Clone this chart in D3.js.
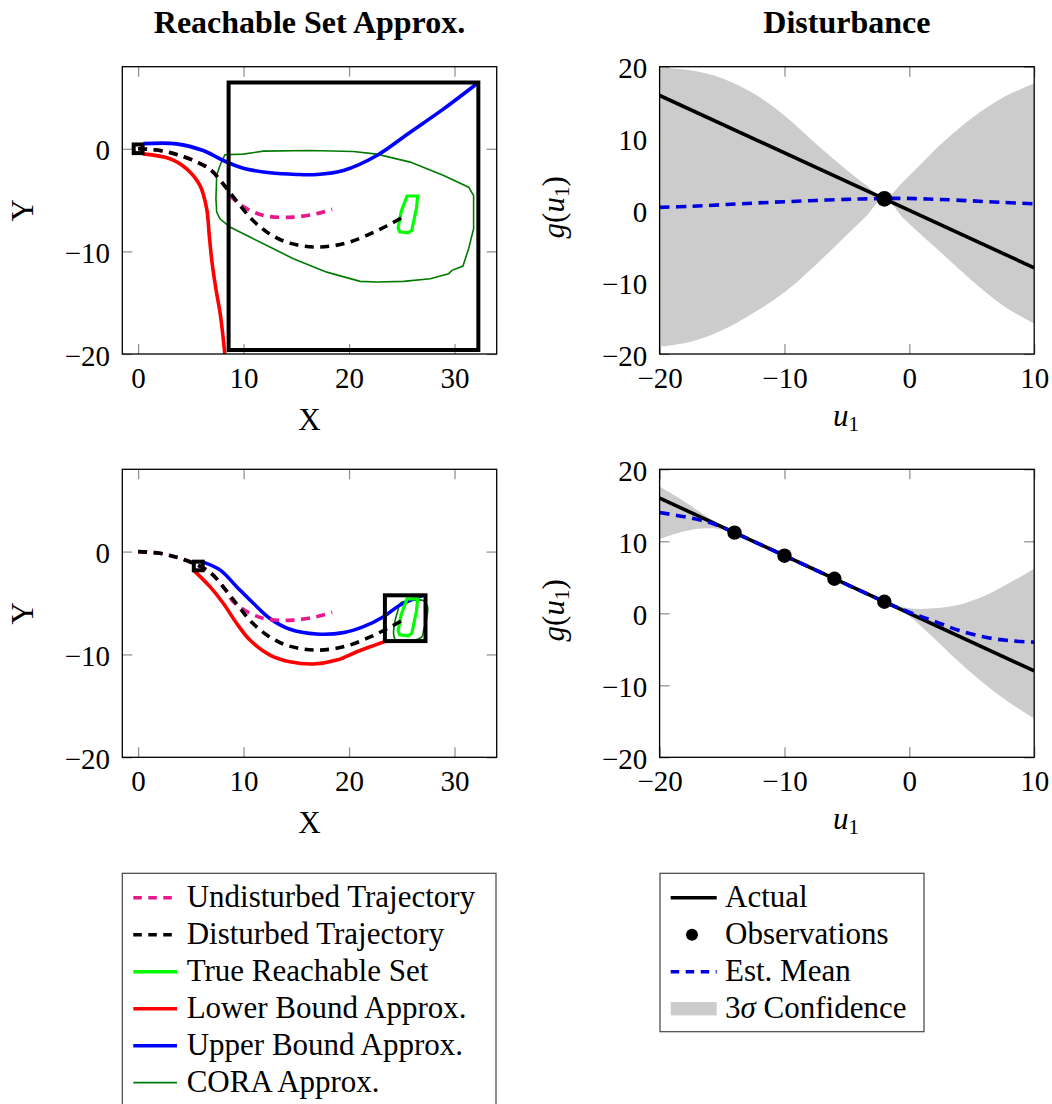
<!DOCTYPE html>
<html><head><meta charset="utf-8">
<script src="https://cdn.jsdelivr.net/npm/d3@7"></script>
<style>
body{margin:0;background:#fff}
svg{display:block}
text{font-family:"Liberation Serif","Times New Roman",serif;fill:#000}
</style>
</head><body>
<svg id="c" width="1052" height="1104"></svg>
<script>
// ---------------- DATA ----------------
const titles = ["Reachable Set Approx.", "Disturbance"];
const xTicksReach = [0, 10, 20, 30];
const yTicksReach = [-20, -10, 0];
const uTicks = [-20, -10, 0, 10];
const gTicks = [-20, -10, 0, 10, 20];

// trajectories (shared by both reachable-set panels)
const trajUndisturbed = [[0,0],[2.06,-0.17],[3.65,-0.55],[5.22,-1.13],[6.81,-2.0],[8.2,-3.6],[9.0,-4.85],[10.6,-6.0],[12.2,-6.56],[14.7,-6.66],[16.9,-6.33],[18.4,-5.9]];
const trajDisturbed = [[0,0],[2.06,-0.17],[3.65,-0.55],[5.22,-1.13],[6.81,-2.0],[8.2,-3.6],[9.5,-5.3],[10.8,-6.9],[12.2,-8.1],[13.8,-9.0],[15.5,-9.45],[17.0,-9.58],[18.5,-9.45],[20.1,-9.08],[22.0,-8.3],[23.6,-7.5],[25.3,-6.55]];
const trueReachSet = [[25.5,-4.6],[26.5,-4.6],[26.4,-5.75],[25.95,-7.95],[25.6,-8.2],[24.8,-8.1],[24.65,-7.7],[24.95,-6.1]];

// top panel (long horizon)
const upperTop = [[0.5,0.5],[3.65,0.48],[6.17,-0.17],[8.07,-1.14],[9.97,-1.89],[12.5,-2.34],[15,-2.5],[16.94,-2.5],[19.47,-2.11],[22.64,-0.65],[25.8,1.62],[28.97,3.89],[32.3,6.48]];
const lowerTop = [[0.45,-0.5],[3.01,-0.97],[4.6,-1.95],[5.86,-3.57],[6.5,-5.84],[6.75,-8.5],[7.0,-11.0],[7.35,-13.5],[7.8,-16.2],[8.2,-19.8],[8.3,-21]];
const coraTop = [[8.23,-0.58],[9.97,-0.52],[11.87,-0.23],[16.3,-0.17],[20.42,-0.26],[22.64,-0.52],[25.8,-1.3],[28.97,-2.6],[31.34,-3.74],[31.81,-4.55],[31.81,-7.79],[31.34,-9.74],[30.8,-11.43],[29.76,-11.85],[29.44,-12.17],[27.7,-12.66],[25.17,-12.92],[22.64,-12.99],[21.05,-12.92],[17.89,-12.02],[14.72,-10.71],[12.5,-9.58],[10.6,-8.6],[8.71,-7.63],[7.76,-6.82],[7.45,-6.17],[7.38,-4.87],[7.45,-2.6],[7.76,-1.63]];
const boxTop = [[8.58,-19.61],[32.26,6.46]];
const startTop = [[-0.42,-0.42],[0.42,0.42]];

// bottom panel (short horizon)
const upperBot = [[6.1,-1.0],[7.76,-1.78],[9.34,-3.41],[10.92,-5.02],[12.5,-6.5],[14.4,-7.55],[16.94,-8.01],[19.47,-7.88],[21.37,-7.3],[23.27,-6.33],[24.85,-5.19],[27.07,-4.22]];
const lowerBot = [[5.3,-1.85],[6.81,-3.41],[8.07,-5.02],[9.34,-6.97],[10.6,-8.6],[12.5,-10.06],[14.4,-10.71],[16.62,-10.93],[18.84,-10.55],[20.74,-9.74],[22,-9.25],[23.4,-8.75]];
const coraBot = [[24.85,-5.02],[25.8,-4.77],[27.07,-4.77],[27.44,-5.36],[27.39,-6.33],[27.07,-7.62],[26.91,-8.28],[26.28,-8.6],[25.17,-8.67],[24.38,-8.53],[24.22,-7.95],[24.38,-6.65],[24.6,-5.84]];
const boxBot = [[23.4,-8.7],[27.25,-4.25]];
const startBot = [[5.28,-1.82],[6.12,-0.98]];

// disturbance panels
const actualU = [-20, 10];
const actualG = [16, -8];
const obsTopU = [-2];
const obsTopG = [1.6];
const obsBotU = [-14, -10, -6, -2];
const obsBotG = [11.2, 8.0, 4.8, 1.6];

const gridTop = [-20,-17.5,-15,-12.5,-10,-7.5,-5,-3.5,-2,-0.5,1,2.5,5,7.5,10];
const meanTop = [0.42,0.56,0.78,1.0,1.2,1.38,1.53,1.6,1.65,1.67,1.6,1.52,1.32,1.1,0.92];
const upTop =   [19.9,19.5,18.4,16.3,13.2,9.3,5.6,3.56,1.65,3.98,6.56,9.16,12.84,15.7,17.7];
const loTop =   [-19.0,-18.3,-16.7,-14.3,-11.4,-7.6,-3.4,-0.88,1.65,-1.05,-3.48,-5.83,-9.75,-13.25,-15.8];

const gridBot = [-20,-18,-16,-14,-10,-6,-2,0,2,4,6,8,10];
const meanBot = [14.0,13.4,12.6,11.2,8.0,4.8,1.6,0.15,-1.1,-2.4,-3.3,-3.8,-4.0];
const upBot =   [17.6,15.5,13.2,11.2,8.0,4.8,1.6,0.7,0.7,1.2,2.4,4.2,6.2];
const loBot =   [10.3,11.4,11.8,11.2,8.0,4.8,1.6,-0.4,-3.5,-6.8,-9.8,-12.4,-14.6];

const legendReach = ["Undisturbed Trajectory","Disturbed Trajectory","True Reachable Set","Lower Bound Approx.","Upper Bound Approx.","CORA Approx."];
const legendDist = ["Actual","Observations","Est. Mean","3\u03C3 Confidence"];

// ---------------- STYLE ----------------
const C = {magenta:"#e8178c", black:"#000", green:"#00ff00", red:"#ff0000", blue:"#0000ff", cora:"#007a00", mean:"#0000dd", band:"#cccccc"};
const LX = [122.3, 496.7], RX = [659.6, 1034.2], TY = [354, 66.7], BY = [757.3, 469.3];
const TICK_FS = 29, FS = 31;

const svg = d3.select("#c");

function makeAxes(xs, ys, xt, yt, id) {
  const g = svg.append("g");
  const [x0, x1] = xs.range(), [yb, yt0] = ys.range();
  g.append("g").attr("transform", `translate(0,${yb})`)
    .call(d3.axisBottom(xs).tickValues(xt).tickSize(-10).tickPadding(13.4));
  g.append("g").attr("transform", `translate(0,${yt0})`)
    .call(d3.axisTop(xs).tickValues(xt).tickSize(-10).tickFormat(() => ""));
  const left = g.append("g").attr("transform", `translate(${x0},0)`)
    .call(d3.axisLeft(ys).tickValues(yt).tickSize(-10).tickPadding(12.3));
  g.append("g").attr("transform", `translate(${x1},0)`)
    .call(d3.axisRight(ys).tickValues(yt).tickSize(-10).tickFormat(() => ""));
  g.selectAll(".domain").remove();
  g.selectAll(".tick line").attr("stroke", "#8c8c8c").attr("stroke-width", 1.2);
  g.selectAll(".tick text").attr("font-size", TICK_FS).attr("font-family", '"Liberation Serif",serif').attr("fill", "#000");
  left.selectAll(".tick text").attr("dy", "0.38em");
  svg.append("clipPath").attr("id", id).append("rect")
    .attr("x", x0).attr("y", yt0).attr("width", x1 - x0).attr("height", yb - yt0);
  const plot = svg.append("g").attr("clip-path", `url(#${id})`);
  const frame = () => svg.append("rect").attr("x", x0).attr("y", yt0).attr("width", x1 - x0).attr("height", yb - yt0)
    .attr("fill", "none").attr("stroke", "#000").attr("stroke-width", 1.3);
  return {plot, frame};
}

function reachPanel(YR, cora, coraCurve, upper, lower, box, start, sid) {
  const xs = d3.scaleLinear().domain([-1.5, 34]).range(LX);
  const ys = d3.scaleLinear().domain([-20, 8]).range(YR);
  const {plot, frame} = makeAxes(xs, ys, xTicksReach, yTicksReach, sid);
  const line = d3.line().x(d => xs(d[0])).y(d => ys(d[1])).curve(d3.curveCatmullRom.alpha(0.5));
  const closed = c => d3.line().x(d => xs(d[0])).y(d => ys(d[1])).curve(c);
  const rect = (b, w) => plot.append("rect").attr("x", xs(b[0][0])).attr("y", ys(b[1][1]))
      .attr("width", xs(b[1][0]) - xs(b[0][0])).attr("height", ys(b[0][1]) - ys(b[1][1]))
      .attr("fill", "none").attr("stroke", "#000").attr("stroke-width", w);
  plot.append("path").attr("d", closed(coraCurve)(cora)).attr("fill", "none").attr("stroke", C.cora).attr("stroke-width", 1.6);
  plot.append("path").attr("d", line(upper)).attr("fill", "none").attr("stroke", C.blue).attr("stroke-width", 3.6);
  plot.append("path").attr("d", line(lower)).attr("fill", "none").attr("stroke", C.red).attr("stroke-width", 3.6);
  plot.append("path").attr("d", closed(d3.curveLinearClosed)(trueReachSet)).attr("fill", "none").attr("stroke", C.green).attr("stroke-width", 3.2);
  plot.append("path").attr("d", line(trajUndisturbed)).attr("fill", "none").attr("stroke", C.magenta).attr("stroke-width", 3.6).attr("stroke-dasharray", "9,6.5");
  plot.append("path").attr("d", line(trajDisturbed)).attr("fill", "none").attr("stroke", C.black).attr("stroke-width", 3.6).attr("stroke-dasharray", "9,6.5");
  rect(box, 4);
  rect(start, 4);
  frame();
  const cy = (YR[0] + YR[1]) / 2;
  svg.append("text").attr("x", (LX[0] + LX[1]) / 2).attr("y", YR[0] + 76).attr("text-anchor", "middle").attr("font-size", FS).text("X");
  svg.append("text").attr("transform", `translate(33,${cy}) rotate(-90)`).attr("text-anchor", "middle").attr("font-size", FS).text("Y");
}

function distPanel(YR, grid, mean, up, lo, obsU, obsG, sid, r) {
  const xs = d3.scaleLinear().domain([-20, 10]).range(RX);
  const ys = d3.scaleLinear().domain([-20, 20]).range(YR);
  const {plot, frame} = makeAxes(xs, ys, uTicks, gTicks, sid);
  const band = grid.map((u, i) => ({u, m: mean[i], a: up[i], b: lo[i]}));
  plot.append("path").attr("d", d3.area().x(d => xs(d.u)).y0(d => ys(d.b)).y1(d => ys(d.a)).curve(d3.curveCatmullRom.alpha(0.5))(band))
    .attr("fill", C.band);
  const act = actualU.map((u, i) => [u, actualG[i]]);
  plot.append("path").attr("d", d3.line().x(d => xs(d[0])).y(d => ys(d[1]))(act)).attr("fill", "none").attr("stroke", "#000").attr("stroke-width", 3.6);
  plot.append("path").attr("d", d3.line().x(d => xs(d.u)).y(d => ys(d.m)).curve(d3.curveCatmullRom.alpha(0.5))(band))
    .attr("fill", "none").attr("stroke", C.mean).attr("stroke-width", 3.6).attr("stroke-dasharray", "10,6.5");
  plot.selectAll("circle.o").data(obsU.map((u, i) => [u, obsG[i]])).join("circle").attr("class", "o")
    .attr("cx", d => xs(d[0])).attr("cy", d => ys(d[1])).attr("r", r).attr("fill", "#000");
  frame();
  const cx = (RX[0] + RX[1]) / 2, cy = (YR[0] + YR[1]) / 2;
  const t = svg.append("text").attr("x", cx - 14).attr("y", YR[0] + 72).attr("font-size", FS);
  t.append("tspan").attr("font-style", "italic").text("u");
  t.append("tspan").attr("font-size", 21).attr("dy", 5).text("1");
  const gl = svg.append("text").attr("transform", `translate(564,${cy - 3}) rotate(-90)`).attr("text-anchor", "middle").attr("font-size", FS);
  gl.append("tspan").attr("font-style", "italic").text("g");
  gl.append("tspan").text("(");
  gl.append("tspan").attr("font-style", "italic").text("u");
  gl.append("tspan").attr("font-size", 21).attr("dy", 5).text("1");
  gl.append("tspan").attr("dy", -5).text(")");
}

// titles
svg.append("text").attr("x", (LX[0] + LX[1]) / 2).attr("y", 33).attr("text-anchor", "middle").attr("font-size", 32).attr("font-weight", "bold").text(titles[0]);
svg.append("text").attr("x", (RX[0] + RX[1]) / 2).attr("y", 33).attr("text-anchor", "middle").attr("font-size", 32).attr("font-weight", "bold").text(titles[1]);

reachPanel(TY, coraTop, d3.curveLinearClosed, upperTop, lowerTop, boxTop, startTop, "c1");
reachPanel(BY, coraBot, d3.curveCatmullRomClosed.alpha(0.5), upperBot, lowerBot, boxBot, startBot, "c2");
distPanel(TY, gridTop, meanTop, upTop, loTop, obsTopU, obsTopG, "c3", 7.8);
distPanel(BY, gridBot, meanBot, upBot, loBot, obsBotU, obsBotG, "c4", 7.2);

// legends
const rowY = i => 906.7 + i * 37;
const lg1 = svg.append("g");
lg1.append("rect").attr("x", 122.3).attr("y", 873.3).attr("width", 373.7).attr("height", 260).attr("fill", "#fff").attr("stroke", "#444").attr("stroke-width", 1.2);
const leftStyles = [
  {c: C.magenta, dash: "8.5,6.5", w: 3.6}, {c: C.black, dash: "8.5,6.5", w: 3.6}, {c: C.green, w: 3.6},
  {c: C.red, w: 3.6}, {c: C.blue, w: 3.6}, {c: C.cora, w: 1.8}];
legendReach.forEach((t, i) => {
  const s = leftStyles[i];
  lg1.append("line").attr("x1", 133.3).attr("x2", 177).attr("y1", rowY(i) - 9).attr("y2", rowY(i) - 9)
    .attr("stroke", s.c).attr("stroke-width", s.w).attr("stroke-dasharray", s.dash || null);
  lg1.append("text").attr("x", 186.7).attr("y", rowY(i)).attr("font-size", FS).text(t);
});
const lg2 = svg.append("g");
lg2.append("rect").attr("x", 660).attr("y", 873.3).attr("width", 264).attr("height", 158.4).attr("fill", "#fff").attr("stroke", "#444").attr("stroke-width", 1.2);
legendDist.forEach((t, i) => {
  const y = rowY(i) - 9;
  if (i === 0) lg2.append("line").attr("x1", 670.7).attr("x2", 716.7).attr("y1", y).attr("y2", y).attr("stroke", "#000").attr("stroke-width", 3.6);
  if (i === 1) lg2.append("circle").attr("cx", 692).attr("cy", y).attr("r", 6).attr("fill", "#000");
  if (i === 2) lg2.append("line").attr("x1", 670.7).attr("x2", 716.7).attr("y1", y).attr("y2", y).attr("stroke", C.mean).attr("stroke-width", 3.6).attr("stroke-dasharray", "8.5,6.5");
  if (i === 3) lg2.append("rect").attr("x", 670.7).attr("y", y - 6.7).attr("width", 46).attr("height", 13.4).attr("fill", C.band);
  const tx = lg2.append("text").attr("x", 725).attr("y", rowY(i)).attr("font-size", FS);
  if (i === 3) { tx.append("tspan").text("3"); tx.append("tspan").attr("font-style", "italic").text("\u03C3"); tx.append("tspan").text(" Confidence"); }
  else tx.text(t);
});
</script>
</body></html>
